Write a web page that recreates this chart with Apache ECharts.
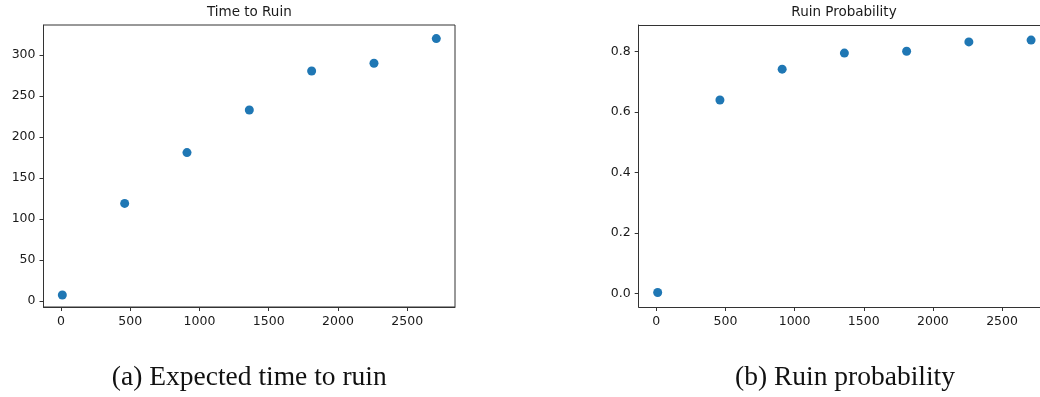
<!DOCTYPE html>
<html>
<head>
<meta charset="utf-8">
<script src="https://cdn.jsdelivr.net/npm/echarts@6/dist/echarts.min.js"></script>
<style>
  html, body { margin: 0; padding: 0; background: #fff; }
  #chart { width: 1040px; height: 397px; }
</style>
</head>
<body>
<div id="chart"></div>
<script>
// capital values on the x axis (same for both panels)
var capital = [10, 460, 910, 1360, 1810, 2260, 2710];
// expected time to ruin
var ruinTime = [7.3, 119, 181, 233, 280.5, 290, 320];
// ruin probability
var ruinProb = [0.003, 0.640, 0.742, 0.795, 0.801, 0.832, 0.838];

var xTicks = [0, 500, 1000, 1500, 2000, 2500];
var timeTicks = [0, 50, 100, 150, 200, 250, 300];
var probTicks = [0, 0.2, 0.4, 0.6, 0.8];

var titles = ['Time to Ruin', 'Ruin Probability'];
var captions = ['(a) Expected time to ruin', '(b) Ruin probability'];

var tickFont = 'DejaVu Sans';
var dotColor = '#1f77b4';
var axisColor = '#333';

function makeX(idx, min, max) {
    return {
        type: 'value',
        gridIndex: idx,
        min: min,
        max: max,
        splitLine: { show: false },
        axisLine: { show: true, onZero: false, lineStyle: { color: axisColor, width: 1 } },
        axisTick: { show: true, inside: false, length: 4, customValues: xTicks, lineStyle: { color: axisColor } },
        axisLabel: {
            customValues: xTicks,
            margin: 8,
            color: '#1a1a1a',
            fontFamily: tickFont,
            fontSize: 12.5,
            formatter: function (v) { return String(v); }
        }
    }
}

function makeY(idx, min, max, ticks, fmt) {
    return {
        type: 'value',
        gridIndex: idx,
        min: min,
        max: max,
        splitLine: { show: false },
        axisLine: { show: true, onZero: false, lineStyle: { color: axisColor, width: 1 } },
        axisTick: { show: true, inside: false, length: 4, customValues: ticks, lineStyle: { color: axisColor } },
        axisLabel: {
            customValues: ticks,
            margin: 8,
            color: '#1a1a1a',
            fontFamily: tickFont,
            fontSize: 12.5,
            formatter: fmt
        }
    }
}

// top spine of the right panel (its right edge falls outside the picture)
var topSpine = {
    type: 'value', gridIndex: 1, position: 'top', min: 0, max: 1,
    splitLine: { show: false }, axisTick: { show: false }, axisLabel: { show: false },
    axisLine: { show: true, onZero: false, lineStyle: { color: axisColor, width: 1 } }
};

var chart = echarts.init(document.getElementById('chart'));
chart.setOption({
    animation: false,
    backgroundColor: '#fff',
    title: [
        { text: titles[0], left: 249.3, top: 5, textAlign: 'center', padding: 0,
          textStyle: { fontFamily: tickFont, fontSize: 13.5, fontWeight: 'normal', color: '#1a1a1a' } },
        { text: titles[1], left: 844, top: 5, textAlign: 'center', padding: 0,
          textStyle: { fontFamily: tickFont, fontSize: 13.5, fontWeight: 'normal', color: '#1a1a1a' } },
        { text: captions[0], left: 249.3, top: 364, textAlign: 'center', padding: 0,
          textStyle: { fontFamily: 'Liberation Serif', fontSize: 27.5, fontWeight: 'normal', color: '#111' } },
        { text: captions[1], left: 845, top: 364, textAlign: 'center', padding: 0,
          textStyle: { fontFamily: 'Liberation Serif', fontSize: 27.5, fontWeight: 'normal', color: '#111' } }
    ],
    grid: [
        { left: 43.5, top: 25, width: 411.5, height: 282, show: true, borderColor: axisColor, borderWidth: 1, backgroundColor: 'transparent' },
        { left: 638.7, top: 25, width: 401.3, height: 282, show: false }
    ],
    xAxis: [makeX(0, -126, 2845), makeX(1, -127.3, 2774.4), topSpine],
    yAxis: [
        makeY(0, -7.3, 336.6, timeTicks, function (v) { return String(v); }),
        makeY(1, -0.045, 0.888, probTicks, function (v) { return v.toFixed(1); })
    ],
    series: [
        {
            type: 'scatter', xAxisIndex: 0, yAxisIndex: 0,
            symbolSize: 9,
            itemStyle: { color: dotColor, opacity: 1 },
            data: capital.map(function (c, i) { return [c, ruinTime[i]]; })
        },
        {
            type: 'scatter', xAxisIndex: 1, yAxisIndex: 1,
            symbolSize: 9,
            itemStyle: { color: dotColor, opacity: 1 },
            data: capital.map(function (c, i) { return [c, ruinProb[i]]; })
        }
    ]
});
</script>
</body>
</html>
